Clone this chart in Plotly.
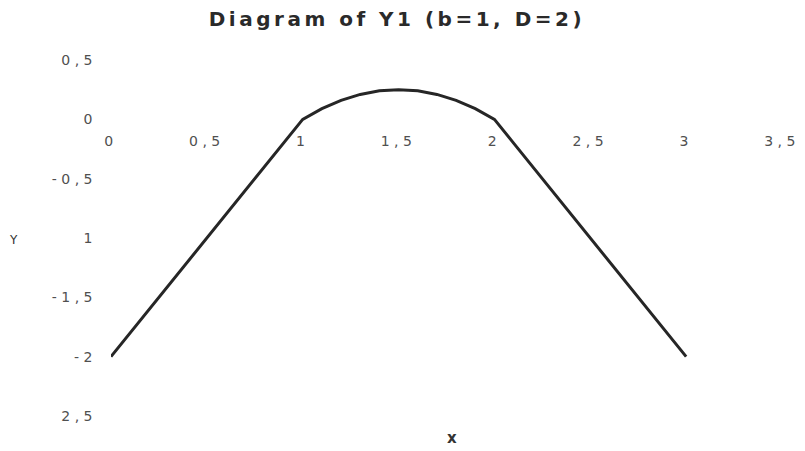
import plotly.graph_objects as go

x_vals = [0.0, 0.1, 0.2, 0.3, 0.4, 0.5, 0.6, 0.7, 0.8, 0.9, 1.0,
          1.1, 1.2, 1.3, 1.4, 1.5, 1.6, 1.7, 1.8, 1.9, 2.0,
          2.1, 2.2, 2.3, 2.4, 2.5, 2.6, 2.7, 2.8, 2.9, 3.0]
y1_vals = [-2.0, -1.8, -1.6, -1.4, -1.2, -1.0, -0.8, -0.6, -0.4, -0.2, 0.0,
           0.09, 0.16, 0.21, 0.24, 0.25, 0.24, 0.21, 0.16, 0.09, 0.0,
           -0.2, -0.4, -0.6, -0.8, -1.0, -1.2, -1.4, -1.6, -1.8, -2.0]

x_ticks = [0, 0.5, 1, 1.5, 2, 2.5, 3, 3.5]
x_ticktext = ["0", "0,5", "1", "1,5", "2", "2,5", "3", "3,5"]
y_ticks = [0.5, 0, -0.5, -1, -1.5, -2, -2.5]
y_ticktext = ["0,5", "0", "-0,5", "1", "-1,5", "-2", "2,5"]

title_text = "Diagram of Y1 (b=1, D=2)"


def spaced(s, px):
    return '<span style="letter-spacing:%.1fpx">%s</span>' % (px, s)


W, H = 797, 443
ML, MR, MT, MB = 103, 23, 52, 35

tick_font = dict(family="DejaVu Sans", size=14, color="#505050")

fig = go.Figure()
fig.add_trace(go.Scatter(x=x_vals, y=y1_vals, mode="lines",
                         line=dict(color="#262626", width=3),
                         showlegend=False, hoverinfo="skip"))

fig.update_layout(
    width=W, height=H,
    margin=dict(l=ML, r=MR, t=MT, b=MB),
    paper_bgcolor="white", plot_bgcolor="white",
    title=dict(text="<b>" + spaced(title_text, 3.5) + "</b>", x=0.488, xanchor="center",
               y=0.99, yanchor="top",
               font=dict(family="DejaVu Sans", size=20, color="#2a2a2a")),
    xaxis=dict(range=[0, 3.5], tickvals=x_ticks,
               ticktext=[spaced(t, 4.5) for t in x_ticktext],
               showgrid=False, zeroline=False, showline=False, ticks="",
               tickfont=tick_font, anchor="free", position=0.80,
               automargin=False),
    yaxis=dict(range=[-2.5, 0.5], tickvals=y_ticks,
               ticktext=[spaced(t, 4.5) for t in y_ticktext],
               showgrid=False, zeroline=False, showline=False, ticks="",
               tickfont=tick_font, ticklabelstandoff=13, automargin=False),
)

# annotation positions given in page pixels (figure sits 8px inside the page)
pw = W - ML - MR
ph = H - MT - MB
labels = [("<b>x</b>", 452, 438, 15), ("Y", 13, 240, 12)]
for txt, px, py, fs in labels:
    fig.add_annotation(text=txt, xref="paper", yref="paper", showarrow=False,
                       xanchor="center", yanchor="middle",
                       x=(px - 8 - ML) / pw, y=(H - MB - (py - 8)) / ph,
                       font=dict(family="DejaVu Sans", size=fs, color="#333333"))

fig.write_html("out.html")
